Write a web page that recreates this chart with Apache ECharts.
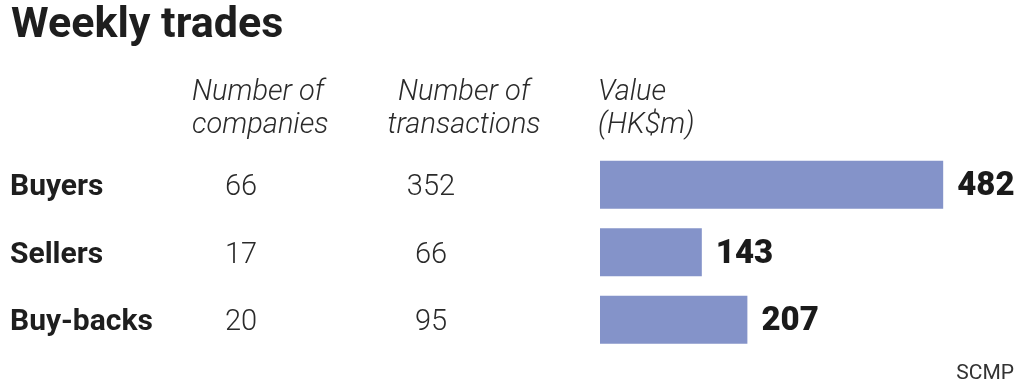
<!DOCTYPE html>
<html>
<head>
<meta charset="utf-8">
<script src="https://cdn.jsdelivr.net/npm/echarts@6/dist/echarts.min.js"></script>
<style>
html,body{margin:0;padding:0;background:#fff;}
#c{width:1024px;height:387px;}
</style>
</head>
<body>
<div id="c"></div>
<script>
const categories = ['Buyers', 'Sellers', 'Buy-backs'];
const companies = [66, 17, 20];
const transactions = [352, 66, 95];
const values = [482, 143, 207];
const headers = ['Number of\ncompanies', 'Number of\ntransactions', 'Value\n(HK$m)'];

const FONT = 'Roboto';
const chart = echarts.init(document.getElementById('c'));
const catAxis = (grid, margin, align, fmt, style) => ({
  type: 'category', data: categories, inverse: true, position: 'left', gridIndex: grid,
  axisLine: {show: false}, axisTick: {show: false}, splitLine: {show: false},
  axisLabel: Object.assign({show: style !== null, margin: margin, align: align, formatter: fmt, fontFamily: FONT}, style || {})
});
const headStyle = {fontFamily: FONT, fontSize: 29, fontStyle: 'italic', fontWeight: 300, fill: '#2a2a2a', lineHeight: 33};
chart.setOption({
  animation: false,
  title: [
    {text: 'Weekly trades', left: 6, top: 0,
     textStyle: {fontFamily: FONT, fontSize: 43, fontWeight: 'bold', color: '#1e1e1e'}},
    {text: 'SCMP', right: 5, top: 358,
     textStyle: {fontFamily: FONT, fontSize: 21, fontWeight: 'normal', color: '#333'}}
  ],
  graphic: [
    {type: 'text', left: 192, top: 76, style: Object.assign({text: headers[0], textAlign: 'left'}, headStyle)},
    {type: 'text', x: 464, y: 76, style: Object.assign({text: headers[1], textAlign: 'center'}, headStyle)},
    {type: 'text', left: 598, top: 76, style: Object.assign({text: headers[2], textAlign: 'left'}, headStyle)}
  ],
  grid: [
    {left: 600, right: 68, top: 151, bottom: 33.5, containLabel: false, outerBoundsMode: 'none'},
    {left: 600, right: 68, top: 154, bottom: 30.5, containLabel: false, outerBoundsMode: 'none'}
  ],
  xAxis: [
    {type: 'value', min: 0, max: 500, show: false, gridIndex: 0},
    {type: 'value', min: 0, max: 500, show: false, gridIndex: 1}
  ],
  yAxis: [
    catAxis(0, 0, 'left', (v) => v, null),
    catAxis(1, 590, 'left', (v) => v, {fontSize: 30, fontWeight: 'bold', color: '#1e1e1e'}),
    catAxis(1, 359, 'center', (v, i) => String(companies[i]), {fontSize: 29, fontWeight: 300, color: '#2a2a2a'}),
    catAxis(1, 169, 'center', (v, i) => String(transactions[i]), {fontSize: 29, fontWeight: 300, color: '#2a2a2a'})
  ],
  series: [{
    type: 'bar', data: values, xAxisIndex: 0, yAxisIndex: 0, barWidth: 48,
    itemStyle: {color: '#8493C9'},
    label: {show: true, position: 'right', distance: 14, fontFamily: FONT, offset: [0, 2],
            fontSize: 33, fontWeight: 900, color: '#1a1a1a'}
  }]
});
</script>
</body>
</html>
